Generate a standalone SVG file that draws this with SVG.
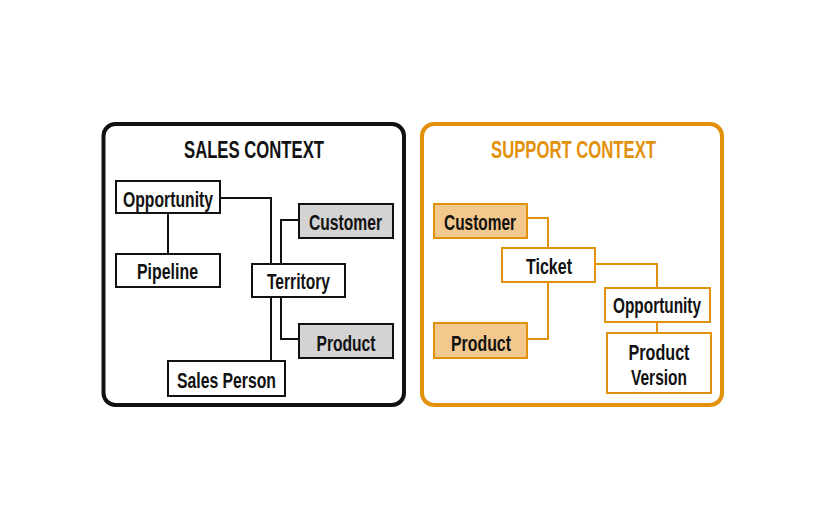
<svg xmlns="http://www.w3.org/2000/svg" width="827" height="531" viewBox="0 0 827 531">
<style>
text{font-family:"Liberation Sans",Arial,sans-serif;font-weight:bold;text-anchor:middle;fill:#111}
.lbl{font-size:22px}
.title{font-size:24px}
.cont{fill:#fff;stroke-width:4}
.s{stroke:#111}
.o{stroke:#E2910C}
.node{stroke-width:2}
.wn{fill:#fff}
.gray{fill:#D3D3D3}
.org{fill:#F3C88C}
.conn path{fill:none;stroke-width:2}
</style>
<rect width="827" height="531" fill="#fff"/>
<rect class="cont s" x="103.5" y="124" width="300.5" height="281" rx="12"/>
<rect class="cont o" x="422" y="124" width="300" height="281" rx="12"/>
<text class="title" x="254" y="157.5" textLength="140" lengthAdjust="spacingAndGlyphs">SALES CONTEXT</text>
<text class="title" x="573.5" y="157.5" textLength="165" lengthAdjust="spacingAndGlyphs" style="fill:#E2910C">SUPPORT CONTEXT</text>
<g id="connectors" class="conn">
<path class="s" d="M220 198H271V264"/>
<path class="s" d="M168 213V254"/>
<path class="s" d="M299 220H281V264"/>
<path class="s" d="M281 297V339H299"/>
<path class="s" d="M271 297V361"/>
<path class="o" d="M527 218H548V248"/>
<path class="o" d="M548 282V339H527"/>
<path class="o" d="M595 264H657V288"/>
<path class="o" d="M657 322V333"/>
</g>
<g id="s-opportunity"><rect class="node s wn" x="116" y="181" width="104" height="32"/><text class="lbl" x="168" y="207" textLength="90" lengthAdjust="spacingAndGlyphs">Opportunity</text></g>
<g id="s-customer"><rect class="node s gray" x="299" y="204" width="94" height="34"/><text class="lbl" x="345.5" y="230" textLength="73" lengthAdjust="spacingAndGlyphs">Customer</text></g>
<g id="s-pipeline"><rect class="node s wn" x="116" y="254" width="104" height="33"/><text class="lbl" x="167.5" y="278.5" textLength="61" lengthAdjust="spacingAndGlyphs">Pipeline</text></g>
<g id="s-territory"><rect class="node s wn" x="252" y="264" width="93" height="33"/><text class="lbl" x="298.5" y="289" textLength="63" lengthAdjust="spacingAndGlyphs">Territory</text></g>
<g id="s-product"><rect class="node s gray" x="299" y="324" width="94" height="34"/><text class="lbl" x="346" y="351" textLength="59" lengthAdjust="spacingAndGlyphs">Product</text></g>
<g id="s-salesperson"><rect class="node s wn" x="168" y="361" width="117" height="35"/><text class="lbl" x="226.5" y="388" textLength="99" lengthAdjust="spacingAndGlyphs">Sales Person</text></g>
<g id="p-customer"><rect class="node o org" x="434" y="204" width="93" height="34"/><text class="lbl" x="480" y="230" textLength="72" lengthAdjust="spacingAndGlyphs">Customer</text></g>
<g id="p-ticket"><rect class="node o wn" x="502" y="248" width="93" height="34"/><text class="lbl" x="549" y="273.5" textLength="46" lengthAdjust="spacingAndGlyphs">Ticket</text></g>
<g id="p-opportunity"><rect class="node o wn" x="605" y="288" width="105" height="34"/><text class="lbl" x="657" y="313" textLength="88" lengthAdjust="spacingAndGlyphs">Opportunity</text></g>
<g id="p-product"><rect class="node o org" x="434" y="323" width="93" height="35"/><text class="lbl" x="481" y="351" textLength="60" lengthAdjust="spacingAndGlyphs">Product</text></g>
<g id="p-productversion"><rect class="node o wn" x="607" y="333" width="104" height="60"/><text class="lbl" x="659" y="360" textLength="61" lengthAdjust="spacingAndGlyphs">Product</text><text class="lbl" x="659" y="385" textLength="56" lengthAdjust="spacingAndGlyphs">Version</text></g>
</svg>
